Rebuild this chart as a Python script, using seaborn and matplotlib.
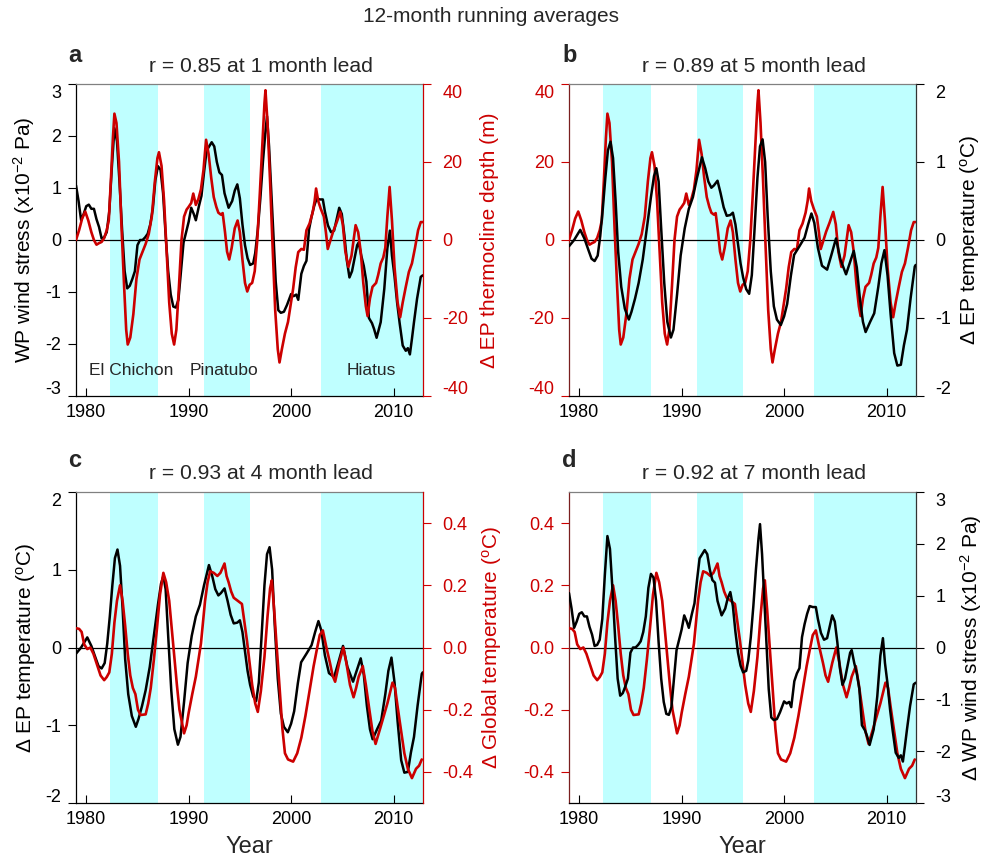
import matplotlib
matplotlib.use("Agg")
import matplotlib.pyplot as plt
import matplotlib.transforms as mtransforms
import seaborn as sns

# ---------------- data ----------------
wind_year = [1979.0, 1979.25, 1979.5, 1979.75, 1980.0, 1980.25, 1980.5, 1980.75, 1981.0, 1981.25,
             1981.5, 1981.75, 1982.0, 1982.25, 1982.5, 1982.75, 1983.0, 1983.25, 1983.5, 1983.75,
             1984.0, 1984.25, 1984.5, 1984.75, 1985.0, 1985.25, 1985.5, 1985.75, 1986.0, 1986.25,
             1986.5, 1986.75, 1987.0, 1987.25, 1987.5, 1987.75, 1988.0, 1988.25, 1988.5, 1988.75,
             1989.0, 1989.25, 1989.5, 1989.75, 1990.0, 1990.25, 1990.5, 1990.7, 1991.0, 1991.25,
             1991.5, 1991.75, 1992.0, 1992.25, 1992.5, 1992.75, 1993.0, 1993.25, 1993.5, 1993.9,
             1994.25, 1994.5, 1994.75, 1995.0, 1995.25, 1995.5, 1995.75, 1996.0, 1996.3, 1996.5,
             1996.75, 1997.0, 1997.25, 1997.5, 1997.65, 1997.85, 1998.0, 1998.25, 1998.5, 1998.75,
             1999.0, 1999.3, 1999.6, 2000.0, 2000.25, 2000.5, 2000.7, 2001.0, 2001.25, 2001.5,
             2001.75, 2002.0, 2002.25, 2002.5, 2002.8, 2003.1, 2003.3, 2003.6, 2003.9, 2004.2,
             2004.45, 2004.7, 2004.95, 2005.2, 2005.45, 2005.7, 2005.95, 2006.2, 2006.45, 2006.6,
             2006.85, 2007.1, 2007.35, 2007.6, 2007.9, 2008.1, 2008.35, 2008.75, 2009.1, 2009.4,
             2009.65, 2009.85, 2010.1, 2010.35, 2010.6, 2010.9, 2011.2, 2011.4, 2011.6, 2011.8,
             2012.0, 2012.3, 2012.66, 2012.85]
wind_val = [1.05, 0.75, 0.38, 0.5, 0.65, 0.68, 0.6, 0.6, 0.4, 0.25,
            0.03, 0.05, 0.15, 0.55, 1.4, 2.15, 1.9, 1.1, 0.2, -0.6,
            -0.93, -0.88, -0.75, -0.6, -0.1, 0.0, 0.0, 0.05, 0.12, 0.3,
            0.6, 1.15, 1.42, 1.35, 0.9, 0.1, -0.6, -1.05, -1.28, -1.3,
            -1.15, -0.6, -0.05, 0.15, 0.35, 0.62, 0.5, 0.38, 0.65, 0.85,
            1.3, 1.72, 1.8, 1.88, 1.8, 1.5, 1.3, 1.25, 0.9, 0.62,
            0.75, 0.95, 1.07, 0.8, 0.3, -0.1, -0.35, -0.48, -0.45, -0.25,
            0.2, 0.8, 1.5, 2.1, 2.38, 1.8, 1.2, 0.2, -0.8, -1.35,
            -1.4, -1.38, -1.25, -1.04, -1.08, -1.05, -1.15, -0.65, -0.5, -0.4,
            0.2, 0.45, 0.65, 0.8, 0.78, 0.78, 0.55, 0.28, 0.15, 0.18,
            0.4, 0.62, 0.5, 0.1, -0.4, -0.72, -0.6, -0.35, -0.1, -0.05,
            -0.3, -0.5, -0.8, -1.5, -1.6, -1.71, -1.88, -1.58, -0.94, -0.16,
            0.18, -0.3, -0.7, -1.2, -1.6, -2.03, -2.13, -2.08, -2.2, -1.9,
            -1.58, -1.13, -0.71, -0.68]

thermo_year = [1979.0, 1979.3, 1979.6, 1979.9, 1980.2, 1980.5, 1980.75, 1981.0, 1981.25, 1981.5,
               1981.75, 1982.0, 1982.2, 1982.4, 1982.6, 1982.75, 1982.95, 1983.2, 1983.45, 1983.7,
               1983.9, 1984.05, 1984.3, 1984.6, 1984.9, 1985.2, 1985.5, 1985.8, 1986.1, 1986.4,
               1986.7, 1986.95, 1987.1, 1987.35, 1987.6, 1987.85, 1988.1, 1988.35, 1988.58, 1988.8,
               1989.05, 1989.3, 1989.55, 1989.8, 1990.0, 1990.25, 1990.45, 1990.7, 1990.95, 1991.2,
               1991.45, 1991.7, 1991.95, 1992.2, 1992.45, 1992.7, 1992.9, 1993.15, 1993.32, 1993.55,
               1993.75, 1993.96, 1994.2, 1994.5, 1994.78, 1995.0, 1995.25, 1995.5, 1995.72, 1995.95,
               1996.2, 1996.45, 1996.7, 1996.95, 1997.2, 1997.4, 1997.5, 1997.7, 1997.95, 1998.2,
               1998.45, 1998.7, 1998.87, 1999.1, 1999.4, 1999.7, 2000.0, 2000.2, 2000.45, 2000.7,
               2001.0, 2001.25, 2001.5, 2001.8, 2002.1, 2002.3, 2002.44, 2002.65, 2002.9, 2003.2,
               2003.4, 2003.58, 2003.85, 2004.1, 2004.45, 2004.8, 2005.05, 2005.3, 2005.6, 2005.9,
               2006.1, 2006.3, 2006.55, 2006.8, 2007.05, 2007.3, 2007.47, 2007.7, 2007.95, 2008.3,
               2008.5, 2008.75, 2009.0, 2009.2, 2009.4, 2009.62, 2009.85, 2010.1, 2010.4, 2010.65,
               2010.9, 2011.2, 2011.5, 2011.8, 2012.1, 2012.4, 2012.66, 2012.85]
thermo_val = [0.0, 2.5, 5.5, 7.3, 5.0, 2.0, 0.0, -1.2, -0.8, -0.5,
              0.5, 2.5, 5.0, 15.0, 26.0, 32.4, 30.0, 20.0, 3.0, -12.0,
              -23.0, -26.8, -25.0, -19.0, -10.0, -5.0, -3.0, -1.0, 1.5, 6.0,
              15.0, 21.0, 22.5, 19.0, 10.0, -3.0, -16.0, -24.0, -26.8, -23.0,
              -12.0, 0.0, 6.0, 7.8, 8.5, 9.5, 11.9, 9.0, 10.5, 13.0,
              18.0, 25.7, 22.0, 16.0, 11.0, 8.5, 7.0, 6.5, 6.9, 2.0,
              -3.0, -5.0, -2.0, 3.0, 5.0, 2.0, -5.0, -11.0, -13.2, -11.5,
              -11.0, -8.0, 0.0, 12.0, 25.0, 35.0, 38.4, 30.0, 15.0, -2.0,
              -18.0, -28.0, -31.4, -28.0, -24.0, -21.0, -16.0, -12.5, -7.0, -3.1,
              -2.3, -2.5, 2.5, 4.2, 7.0, 10.0, 13.2, 10.0, 8.0, 6.0,
              2.0, -2.3, 0.0, 2.1, 4.5, 7.2, 4.0, -3.0, -6.9, -4.0,
              0.0, 3.8, 2.0, -3.0, -11.0, -17.0, -19.5, -15.0, -12.0, -11.0,
              -9.0, -6.0, -4.5, -2.0, 6.0, 13.6, 5.0, -7.0, -16.0, -19.8,
              -16.0, -12.0, -8.2, -6.0, -2.0, 2.5, 4.6, 4.6]

eptemp_year = [1979.0, 1979.5, 1980.1, 1980.5, 1980.9, 1981.2, 1981.5, 1981.8, 1982.05, 1982.3,
               1982.55, 1982.8, 1983.05, 1983.3, 1983.55, 1983.8, 1984.1, 1984.45, 1984.84, 1985.1,
               1985.45, 1985.8, 1986.2, 1986.6, 1987.0, 1987.3, 1987.53, 1987.75, 1988.0, 1988.3,
               1988.6, 1988.95, 1989.2, 1989.55, 1989.9, 1990.3, 1990.7, 1991.1, 1991.5, 1991.98,
               1992.3, 1992.6, 1992.9, 1993.15, 1993.5, 1993.8, 1994.1, 1994.4, 1994.75, 1995.0,
               1995.25, 1995.5, 1995.75, 1996.0, 1996.3, 1996.59, 1996.85, 1997.1, 1997.4, 1997.65,
               1997.9, 1998.15, 1998.4, 1998.7, 1999.0, 1999.3, 1999.68, 2000.0, 2000.3, 2000.66,
               2000.98, 2001.5, 2002.0, 2002.35, 2002.67, 2002.95, 2003.3, 2003.7, 2004.2, 2004.6,
               2005.07, 2005.5, 2006.05, 2006.4, 2006.8, 2007.1, 2007.4, 2007.7, 2007.96, 2008.4,
               2008.8, 2009.2, 2009.5, 2009.8, 2010.1, 2010.4, 2010.75, 2011.06, 2011.4, 2011.7,
               2012.0, 2012.35, 2012.76, 2012.85]
eptemp_val = [-0.08, 0.0, 0.13, 0.02, -0.13, -0.24, -0.27, -0.2, 0.05, 0.4,
              0.8, 1.15, 1.26, 1.05, 0.5, -0.15, -0.6, -0.88, -1.02, -0.92,
              -0.75, -0.55, -0.25, 0.15, 0.55, 0.82, 0.92, 0.75, 0.15, -0.55,
              -1.05, -1.25, -1.15, -0.7, -0.2, 0.15, 0.4, 0.55, 0.8, 1.06,
              0.92, 0.75, 0.67, 0.7, 0.76, 0.6, 0.42, 0.31, 0.32, 0.35,
              0.2, -0.05, -0.3, -0.48, -0.63, -0.69, -0.45, 0.1, 0.8, 1.2,
              1.29, 1.0, 0.3, -0.4, -0.85, -1.02, -1.09, -0.98, -0.82, -0.46,
              -0.19, -0.08, 0.03, 0.2, 0.34, 0.22, -0.1, -0.33, -0.38, -0.2,
              0.02, -0.25, -0.44, -0.3, -0.14, -0.35, -0.75, -1.05, -1.18, -1.05,
              -0.94, -0.6, -0.3, -0.13, -0.45, -0.95, -1.45, -1.61, -1.6, -1.35,
              -1.15, -0.75, -0.34, -0.32]

gtemp_year = [1979.0, 1979.3, 1979.55, 1979.8, 1980.1, 1980.4, 1980.7, 1981.0, 1981.4, 1981.75,
              1982.0, 1982.25, 1982.5, 1982.75, 1983.0, 1983.3, 1983.55, 1983.8, 1984.05, 1984.3,
              1984.55, 1984.8, 1985.05, 1985.3, 1985.8, 1986.05, 1986.3, 1986.6, 1986.9, 1987.2,
              1987.53, 1987.8, 1988.1, 1988.35, 1988.6, 1988.85, 1989.1, 1989.55, 1989.8, 1990.0,
              1990.35, 1990.7, 1991.0, 1991.2, 1991.6, 1991.85, 1992.1, 1992.45, 1992.8, 1993.1,
              1993.5, 1993.7, 1993.9, 1994.15, 1994.4, 1994.8, 1995.2, 1995.45, 1995.7, 1995.95,
              1996.2, 1996.5, 1996.75, 1997.05, 1997.4, 1997.7, 1997.95, 1998.12, 1998.35, 1998.6,
              1998.9, 1999.15, 1999.4, 1999.7, 2000.2, 2000.6, 2001.0, 2001.4, 2001.8, 2002.2,
              2002.5, 2002.8, 2003.1, 2003.45, 2003.8, 2004.05, 2004.3, 2004.7, 2005.1, 2005.4,
              2005.75, 2006.1, 2006.35, 2006.6, 2007.0, 2007.3, 2007.6, 2007.95, 2008.25, 2008.7,
              2009.05, 2009.4, 2009.9, 2010.15, 2010.4, 2010.75, 2011.06, 2011.4, 2011.8, 2012.2,
              2012.5, 2012.76]
gtemp_val = [0.062, 0.06, 0.05, 0.01, -0.005, 0.0, -0.02, -0.05, -0.09, -0.105,
             -0.095, -0.08, -0.02, 0.08, 0.15, 0.2, 0.15, 0.07, -0.02, -0.09,
             -0.13, -0.15, -0.2, -0.217, -0.215, -0.18, -0.13, -0.04, 0.06, 0.17,
             0.24, 0.21, 0.15, 0.06, -0.03, -0.12, -0.2, -0.276, -0.25, -0.21,
             -0.15, -0.094, -0.03, 0.013, 0.15, 0.21, 0.245, 0.24, 0.23, 0.24,
             0.27, 0.23, 0.21, 0.18, 0.16, 0.15, 0.14, 0.08, 0.02, -0.05,
             -0.12, -0.18, -0.207, -0.14, -0.03, 0.1, 0.19, 0.216, 0.12, 0.0,
             -0.14, -0.26, -0.34, -0.36, -0.367, -0.34, -0.29, -0.22, -0.14, -0.06,
             -0.009, 0.04, 0.055, 0.0, -0.05, -0.09, -0.11, -0.05, 0.0, -0.05,
             -0.12, -0.16, -0.13, -0.094, -0.06, -0.12, -0.19, -0.27, -0.31, -0.26,
             -0.22, -0.18, -0.113, -0.13, -0.19, -0.27, -0.34, -0.39, -0.42, -0.39,
             -0.38, -0.36]

shade_start = [1982.33, 1991.45, 2002.95]
shade_end = [1987.0, 1996.0, 2013.0]
event_names = ["El Chichon", "Pinatubo", "Hiatus"]
event_label_year = [1984.4, 1993.45, 2007.85]
year_ticks = [1980, 1990, 2000, 2010]
panel_titles = ["r = 0.85 at 1 month lead", "r = 0.89 at 5 month lead",
                "r = 0.93 at 4 month lead", "r = 0.92 at 7 month lead"]
panel_letters = ["a", "b", "c", "d"]
suptitle = "12-month running averages"

wind_ticks = [-3, -2, -1, 0, 1, 2, 3]
thermo_ticks = [-40, -20, 0, 20, 40]
eptemp_ticks = [-2, -1, 0, 1, 2]
gtemp_ticks = [-0.4, -0.2, 0.0, 0.2, 0.4]

# ---------------- style ----------------
RED = "#cc0000"
CYAN = "#bfffff"
DARKRED = "#7a1f1f"
sns.set_theme(style="ticks")
plt.rcParams["font.family"] = ["Liberation Sans", "DejaVu Sans"]
plt.rcParams["mathtext.fontset"] = "custom"
plt.rcParams["mathtext.rm"] = "Liberation Sans"
plt.rcParams["mathtext.it"] = "Liberation Sans:italic"
plt.rcParams["mathtext.bf"] = "Liberation Sans:bold"
plt.rcParams["mathtext.default"] = "regular"
plt.rcParams["axes.unicode_minus"] = False

W, H = 982, 857
fig = plt.figure(figsize=(W / 100, H / 100), dpi=100)
fig.patch.set_facecolor("white")
XLIM = (1979.0, 2012.88)


def frac(l, t, r, b):
    return [l / W, 1 - b / H, (r - l) / W, (b - t) / H]


SERIES = {
    "wind": dict(x=wind_year, y=wind_val, lim=(-3, 3), ticks=wind_ticks, fmt="{:g}"),
    "thermo": dict(x=thermo_year, y=thermo_val, lim=(-40, 40), ticks=thermo_ticks, fmt="{:g}"),
    "eptemp": dict(x=eptemp_year, y=eptemp_val, lim=(-2, 2), ticks=eptemp_ticks, fmt="{:g}"),
    "gtemp": dict(x=gtemp_year, y=gtemp_val, lim=(-0.5, 0.5), ticks=gtemp_ticks, fmt="{:.1f}"),
}

all_axes = []


def make_panel(rect, host_key, twin_key, host_color, twin_color, host_spine, twin_spine,
               title, letter, letter_px, host_label, twin_label, host_lab_x, twin_lab_x,
               xlabel=None, events=False):
    ax = fig.add_axes(frac(*rect))
    for s0, s1 in zip(shade_start, shade_end):
        ax.axvspan(s0, s1, color=CYAN, lw=0, zorder=0)
    ax.axhline(0, color="black", lw=0.9, zorder=1)
    hs = SERIES[host_key]
    sns.lineplot(x=hs["x"], y=hs["y"], ax=ax, color=host_color,
                 linewidth=1.9 if host_color == RED else 1.8, estimator=None, sort=False, zorder=3)
    ax.set_xlim(*XLIM)
    ax.set_ylim(*hs["lim"])
    ax.set_yticks(hs["ticks"])
    ax.set_yticklabels([hs["fmt"].format(t) for t in hs["ticks"]])
    ax.set_xticks(year_ticks)
    ax.set_xticklabels([str(t) for t in year_ticks])
    ax.tick_params(axis="x", direction="in", length=6, width=0.8, labelsize=13, pad=6,
                   colors="black", top=False)
    ax.tick_params(axis="y", direction="out", length=5.5, width=0.8, labelsize=13, pad=5,
                   colors=host_color, right=False)
    ax.spines["right"].set_visible(False)
    ax.spines["left"].set_color(host_spine)
    ax.spines["top"].set_color("#808080")
    ax.spines["bottom"].set_color("black")
    for sp in ax.spines.values():
        sp.set_linewidth(0.9)
    ax.set_xlabel("")
    if host_label:
        ax.set_ylabel(host_label, fontsize=15, color=host_color)
        ax.yaxis.set_label_coords(host_lab_x, 0.5)
        ax.yaxis.label.set_va("center")
        ax.yaxis.label.set_ha("center")
    else:
        ax.set_ylabel("")

    tw = ax.twinx()
    ts = SERIES[twin_key]
    sns.lineplot(x=ts["x"], y=ts["y"], ax=tw, color=twin_color,
                 linewidth=1.9 if twin_color == RED else 1.8, estimator=None, sort=False, zorder=3)
    tw.set_xlim(*XLIM)
    tw.set_ylim(*ts["lim"])
    tw.set_yticks(ts["ticks"])
    tw.set_yticklabels([ts["fmt"].format(t) for t in ts["ticks"]])
    tw.tick_params(axis="y", direction="out", length=5.5, width=0.8, labelsize=13, pad=8.5,
                   colors=twin_color)
    for s in ("left", "top", "bottom"):
        tw.spines[s].set_visible(False)
    tw.spines["right"].set_color(twin_spine)
    tw.spines["right"].set_linewidth(0.9)
    tw.set_xlabel("")
    if twin_label:
        tw.set_ylabel(twin_label, fontsize=15, color=twin_color)
        tw.yaxis.set_label_coords(twin_lab_x, 0.5)
        tw.yaxis.label.set_va("center")
        tw.yaxis.label.set_ha("center")
    else:
        tw.set_ylabel("")

    if xlabel:
        ax.set_xlabel(xlabel, fontsize=17)
        ax.xaxis.set_label_coords(0.5, -44.0 / (rect[3] - rect[1]))
        ax.xaxis.label.set_va("center")

    ax.text(0.533, 1 + 18.0 / (rect[3] - rect[1]), title, transform=ax.transAxes,
            ha="center", va="center", fontsize=15.2)
    fig.text(letter_px[0] / W, 1 - letter_px[1] / H, letter, fontsize=17,
             fontweight="bold", ha="left", va="baseline")

    if events:
        for name, yr in zip(event_names, event_label_year):
            ax.text(yr, -2.51, name, ha="center", va="center", fontsize=12.5, zorder=4)
    all_axes.append(ax)
    all_axes.append(tw)
    return ax, tw


wp_label = "WP wind stress (x10$^{-2}$ Pa)"
dwp_label = "\u0394 WP wind stress (x10$^{-2}$ Pa)"
th_label = "\u0394 EP thermocline depth (m)"
ep_label = "\u0394 EP temperature ($^{o}$C)"
gl_label = "\u0394 Global temperature ($^{o}$C)"

make_panel((76, 84, 423, 396), "wind", "thermo", "black", RED, "black", RED,
           panel_titles[0], panel_letters[0], (68, 62), wp_label, th_label,
           (24 - 76) / 347, (490 - 76) / 347, events=True)
make_panel((569, 84, 916, 396), "thermo", "eptemp", RED, "black", DARKRED, "#333333",
           panel_titles[1], panel_letters[1], (562, 62), None, ep_label,
           0, (970 - 569) / 347)
make_panel((76, 492, 423, 803), "eptemp", "gtemp", "black", RED, "black", RED,
           panel_titles[2], panel_letters[2], (68, 467), ep_label, gl_label,
           (26 - 76) / 347, (492 - 76) / 347, xlabel="Year")
make_panel((569, 492, 916, 803), "gtemp", "wind", RED, "black", DARKRED, "#333333",
           panel_titles[3], panel_letters[3], (562, 467), None, dwp_label,
           0, (971 - 569) / 347, xlabel="Year")

fig.text(491 / W, 1 - 17 / H, suptitle, ha="center", va="center", fontsize=15)

# shift the end tick labels inward (as in the reference)
fig.canvas.draw()
for a in all_axes:
    lo, hi = a.get_ylim()
    for tk in a.yaxis.get_major_ticks():
        loc = tk.get_loc()
        dy = 0
        if abs(loc - hi) < 1e-9:
            dy = -8
        elif abs(loc - lo) < 1e-9:
            dy = 8
        if dy:
            off = mtransforms.ScaledTranslation(0, dy / 100.0, fig.dpi_scale_trans)
            for lab in (tk.label1, tk.label2):
                lab.set_transform(lab.get_transform() + off)

fig.savefig("out.png", dpi=100, facecolor="white")
